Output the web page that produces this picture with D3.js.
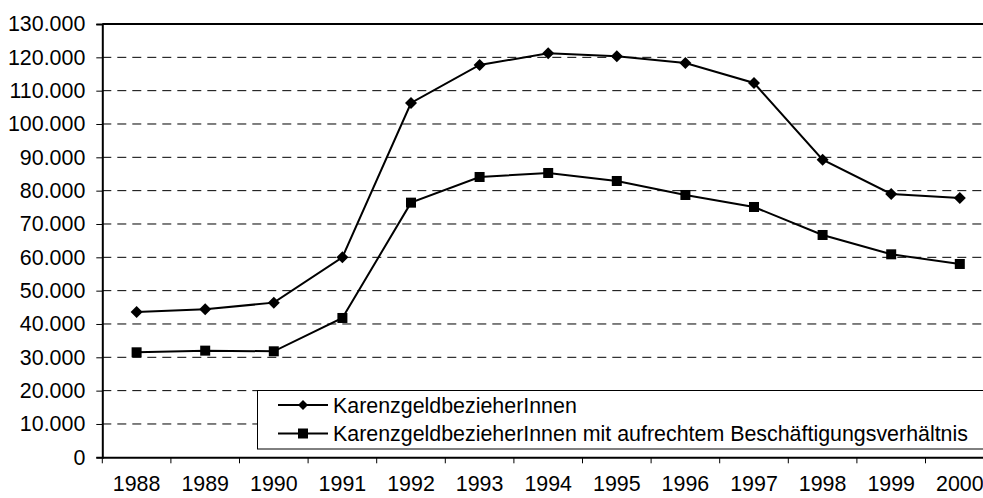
<!DOCTYPE html>
<html>
<head>
<meta charset="utf-8">
<script src="https://cdn.jsdelivr.net/npm/d3@7"></script>
<style>
  body { margin: 0; background: #fff; }
  svg { display: block; font-family: "Liberation Sans", Arial, sans-serif; }
</style>
</head>
<body>
<svg width="983" height="498"></svg>
<script>
// Daten
var years = ["1988", "1989", "1990", "1991", "1992", "1993", "1994", "1995", "1996", "1997", "1998", "1999", "2000"];
var bezieher = [43600, 44400, 46400, 60000, 106300, 117700, 121200, 120300, 118300, 112300, 89300, 79000, 77800];
var mitBeschaeftigung = [31500, 32000, 31800, 41800, 76400, 84100, 85300, 82900, 78700, 75100, 66700, 60900, 58000];
var yTicks = [0, 10000, 20000, 30000, 40000, 50000, 60000, 70000, 80000, 90000, 100000, 110000, 120000, 130000];
var legendLabels = ["KarenzgeldbezieherInnen", "KarenzgeldbezieherInnen mit aufrechtem Beschäftigungsverhältnis"];

var svg = d3.select("svg");
var plotLeft = 102.3, plotTop = 24, plotBottom = 457.3, step = 68.6;
var fontSize = "21.4px";

var de = d3.formatLocale({ decimal: ",", thousands: ".", grouping: [3], currency: ["", "€"] });
var fmt = de.format(",d");

var x = d3.scaleBand().domain(years).range([plotLeft, plotLeft + step * years.length]).padding(0);
var y = d3.scaleLinear().domain([0, 130000]).range([plotBottom, plotTop]);

// Gitterlinien (gestrichelt)
svg.append("g").selectAll("line")
    .data(yTicks.filter(function(d) { return d > 0 && d < 130000; }))
    .enter().append("line")
    .attr("x1", plotLeft).attr("x2", x.range()[1])
    .attr("y1", function(d) { return y(d); })
    .attr("y2", function(d) { return y(d); })
    .attr("stroke", "#000")
    .attr("stroke-width", 1)
    .style("stroke-dasharray", "9,6");

// Rahmen oben
svg.append("line")
    .attr("x1", plotLeft).attr("x2", x.range()[1])
    .attr("y1", y(130000)).attr("y2", y(130000))
    .attr("stroke", "#000").attr("stroke-width", 2);

// Y-Achse
var yAxis = svg.append("g")
    .attr("transform", "translate(" + plotLeft + ",0)")
    .call(d3.axisLeft(y).tickValues(yTicks).tickFormat(fmt).tickSize(6).tickPadding(11));
yAxis.select(".domain").attr("stroke-width", 2);
yAxis.selectAll("text").attr("font-size", fontSize).attr("fill", "#000").attr("font-family", "Liberation Sans, Arial, sans-serif");

// X-Achse: Beschriftung in der Mitte, Striche an den Grenzen
var xAxis = svg.append("g")
    .attr("transform", "translate(0," + plotBottom + ")")
    .call(d3.axisBottom(x).tickSize(0).tickPadding(19));
xAxis.select(".domain").attr("stroke-width", 2);
xAxis.selectAll("text").attr("font-size", fontSize).attr("fill", "#000").attr("font-family", "Liberation Sans, Arial, sans-serif");

svg.append("g").selectAll("line")
    .data(years.map(function(d) { return x(d); }).concat([x.range()[1]]))
    .enter().append("line")
    .attr("x1", function(d) { return d; }).attr("x2", function(d) { return d; })
    .attr("y1", plotBottom).attr("y2", plotBottom + 6)
    .attr("stroke", "#000").attr("stroke-width", 1);

// Linien
var line = d3.line()
    .x(function(d, i) { return x(years[i]) + x.bandwidth() / 2; })
    .y(function(d) { return y(d); });

[bezieher, mitBeschaeftigung].forEach(function(series) {
    svg.append("path")
        .datum(series)
        .attr("d", line)
        .attr("fill", "none")
        .attr("stroke", "#000")
        .attr("stroke-width", 2);
});

svg.append("g").selectAll("path")
    .data(bezieher)
    .enter().append("path")
    .attr("d", "M0,-6L6,0L0,6L-6,0Z")
    .attr("transform", function(d, i) { return "translate(" + (x(years[i]) + x.bandwidth() / 2) + "," + y(d) + ")"; })
    .attr("fill", "#000");

svg.append("g").selectAll("rect")
    .data(mitBeschaeftigung)
    .enter().append("rect")
    .attr("x", function(d, i) { return x(years[i]) + x.bandwidth() / 2 - 5; })
    .attr("y", function(d) { return y(d) - 5; })
    .attr("width", 10).attr("height", 10)
    .attr("fill", "#000");

// Legende
var legend = svg.append("g");
legend.append("rect")
    .attr("x", 257.5).attr("y", 390.5)
    .attr("width", 760).attr("height", 58.5)
    .attr("fill", "#fff")
    .attr("stroke", "#000").attr("stroke-width", 1);

var rows = legend.selectAll("g.row")
    .data(legendLabels)
    .enter().append("g")
    .attr("class", "row")
    .attr("transform", function(d, i) { return "translate(0," + (405 + i * 28.5) + ")"; });

rows.append("line")
    .attr("x1", 278).attr("x2", 328)
    .attr("stroke", "#000").attr("stroke-width", 2);

rows.filter(function(d, i) { return i === 0; }).append("path")
    .attr("d", "M0,-5L5,0L0,5L-5,0Z")
    .attr("transform", "translate(303,0)")
    .attr("fill", "#000");

rows.filter(function(d, i) { return i === 1; }).append("rect")
    .attr("x", 298).attr("y", -5).attr("width", 10).attr("height", 10)
    .attr("fill", "#000");

rows.append("text")
    .attr("x", 333)
    .attr("dy", "0.35em")
    .attr("font-size", fontSize)
    .attr("fill", "#000")
    .text(function(d) { return d; });
</script>
</body>
</html>
